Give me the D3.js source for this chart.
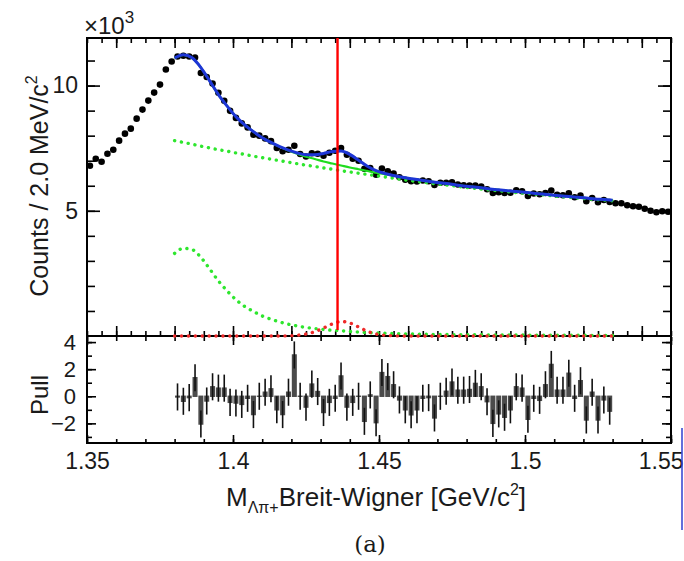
<!DOCTYPE html>
<html>
  <head>
    <meta charset="utf-8" />
    <title>Lambda pi+ invariant mass fit with pulls</title>
    <script src="https://d3js.org/d3.v7.min.js"></script>
    <style>
      body {
        margin: 0;
        background: #fff;
      }
      svg text {
        font-family: "Liberation Sans", Arial, sans-serif;
        fill: #1a1a1a;
      }
      .axis path {
        display: none;
      }
      .axis line {
        stroke: #000;
        stroke-width: 1.6;
      }
      .axis text {
        font-size: 22px;
      }
    </style>
  </head>
  <body>
    <svg id="chart" width="684" height="561"></svg>

    <script>
      // ---- data (counts in units of 10^3 per 2 MeV/c^2 bin) ----
      const firstBin = 1.351;   // centre of first bin, GeV/c^2
      const binWidth = 0.002;

      const counts = [
        6.80, 7.08, 6.96, 7.28, 7.44, 7.80, 8.08, 8.28, 8.68, 9.04,
        9.40, 9.72, 10.04, 10.64, 10.96, 11.16, 11.19, 11.16, 11.12, 10.50,
        10.34, 10.08, 9.71, 9.39, 8.99, 8.71, 8.49, 8.33, 8.04, 8.00,
        7.89, 7.78, 7.51, 7.38, 7.44, 7.60, 7.27, 7.17, 7.30, 7.28,
        7.20, 7.32, 7.40, 7.51, 7.24, 7.08, 7.00, 6.68, 6.71, 6.44,
        6.69, 6.58, 6.49, 6.34, 6.24, 6.18, 6.17, 6.21, 6.18, 6.03,
        6.12, 6.12, 6.14, 6.05, 6.02, 6.01, 6.01, 5.97, 5.86, 5.71,
        5.74, 5.71, 5.72, 5.82, 5.78, 5.59, 5.69, 5.66, 5.71, 5.81,
        5.64, 5.62, 5.70, 5.54, 5.61, 5.38, 5.51, 5.34, 5.43, 5.35,
        5.30, 5.30, 5.22, 5.18, 5.16, 5.08, 5.00, 4.94, 4.98, 4.96
      ];

      // fit components sampled on a 3 MeV grid from 1.380 to 1.530
      const fitStart = 1.380;
      const fitStep = 0.003;

      // polynomial background (upper green dotted)
      const bkgPoly = [
        7.80, 7.73, 7.66, 7.58, 7.51, 7.44, 7.38, 7.31, 7.25, 7.18,
        7.12, 7.06, 7.00, 6.94, 6.88, 6.82, 6.77, 6.71, 6.66, 6.60,
        6.55, 6.50, 6.45, 6.40, 6.35, 6.30, 6.25, 6.20, 6.16, 6.11,
        6.07, 6.03, 5.99, 5.94, 5.91, 5.87, 5.83, 5.80, 5.76, 5.73,
        5.70, 5.67, 5.64, 5.60, 5.57, 5.54, 5.51, 5.48, 5.45, 5.43,
        5.40
      ];

      // Sigma(1385) Breit-Wigner (lower green dotted)
      const bkgSigma = [
        3.30, 3.50, 3.45, 3.14, 2.68, 2.20, 1.80, 1.45, 1.18, 0.98,
        0.80, 0.67, 0.56, 0.47, 0.40, 0.34, 0.30, 0.26, 0.23, 0.21,
        0.18, 0.16, 0.14, 0.12, 0.11, 0.10, 0.09, 0.08, 0.07, 0.07,
        0.06, 0.06, 0.05, 0.05, 0.05, 0.05, 0.04, 0.04, 0.04, 0.04,
        0.04, 0.03, 0.03, 0.03, 0.03, 0.03, 0.03, 0.03, 0.02, 0.02,
        0.02
      ];

      // signal (red dotted)
      const signal = [
        0, 0, 0, 0, 0, 0, 0, 0, 0, 0,
        0, 0, 0, 0.01, 0.03, 0.08, 0.17, 0.32, 0.48, 0.58,
        0.52, 0.36, 0.19, 0.08, 0.03, 0.01, 0, 0, 0, 0,
        0, 0, 0, 0, 0, 0, 0, 0, 0, 0,
        0, 0, 0, 0, 0, 0, 0, 0, 0, 0,
        0
      ];

      const markerMass = 1.4358;  // vertical red line

      // pulls for the 75 bins of the fit range (first bin centre 1.381)
      const pullStart = 1.381;
      const pulls = [
        -0.05, -0.37, -0.10, 1.37, -2.05, -0.35, 0.70, 0.60, 0.60, -0.45,
        -0.50, -0.60, -0.15, -1.35, 0.00, 0.30, 0.55, -1.00, -1.35, 0.30,
        3.05, 0.00, -0.80, 0.90, 0.35, -1.20, -0.45, -0.15, 1.50, -0.80,
        -0.45, 0.00, -1.85, 0.10, -1.95, 1.75, 1.45, 0.85, -0.27, -1.00,
        -1.37, -1.00, -0.15, -0.10, -1.60, 0.00, 0.37, 1.05, 0.45, 0.45,
        0.50, 0.95, 0.70, -0.40, -2.00, -1.30, -1.55, -1.00, 0.70, 0.60,
        -1.70, -0.15, -0.30, 0.85, 2.35, 0.45, 0.45, 1.70, -0.15, 1.15,
        -1.75, 0.30, -1.75, -0.27, -1.10
      ];

      const xTickLabels = ["1.35", "1.4", "1.45", "1.5", "1.55"];
      const yTickLabels = ["5", "10"];
      const pullTickLabels = ["\u22122", "0", "2", "4"];

      // ---- layout ----
      const left = 87, right = 671;
      const topY = 38, midY = 336, botY = 443;

      const svg = d3.select('#chart');

      const x = d3.scaleLinear().domain([1.35, 1.55]).range([left, right]);
      const y = d3.scaleLinear().domain([0, 11.9]).range([midY, topY]);
      const yp = d3.scaleLinear().domain([-3.45, 4.45]).range([botY, midY]);

      const binCentres = counts.map((c, i) => firstBin + i * binWidth);
      const fitMass = bkgPoly.map((v, i) => fitStart + i * fitStep);

      // clip for the upper pad
      svg.append('clipPath').attr('id', 'topclip')
        .append('rect')
        .attr('x', left).attr('y', topY)
        .attr('width', right - left).attr('height', midY - topY + 2);

      // ---- axes, upper pad ----
      const xMinorTop = d3.range(0, 41).map(i => 1.35 + i * 0.005);
      const xMajorTop = d3.range(0, 10).map(i => 1.36 + i * 0.02);

      function addAxis(axis, tx, ty) {
        return svg.append('g').attr('class', 'axis')
          .attr('transform', `translate(${tx},${ty})`)
          .call(axis);
      }

      addAxis(d3.axisBottom(x).tickValues(xMinorTop).tickSize(-5).tickFormat(''), 0, midY);
      addAxis(d3.axisBottom(x).tickValues(xMajorTop).tickSize(-10).tickFormat(''), 0, midY);
      addAxis(d3.axisTop(x).tickValues(xMinorTop).tickSize(-5).tickFormat(''), 0, topY);
      addAxis(d3.axisTop(x).tickValues(xMajorTop).tickSize(-10).tickFormat(''), 0, topY);

      const yMinor = d3.range(1, 12);
      addAxis(d3.axisLeft(y).tickValues(yMinor).tickSize(-8).tickFormat(''), left, 0);
      addAxis(d3.axisLeft(y).tickValues([5, 10]).tickSize(-13).tickPadding(9)
        .tickFormat((d, i) => yTickLabels[i]), left, 0)
        .selectAll('text').style('font-size', '23px');
      addAxis(d3.axisRight(y).tickValues(yMinor).tickSize(-8).tickFormat(''), right, 0);
      addAxis(d3.axisRight(y).tickValues([5, 10]).tickSize(-13).tickFormat(''), right, 0);

      // ---- axes, pull pad ----
      const xMinorBot = d3.range(0, 21).map(i => 1.35 + i * 0.01);
      const xMajorBot = d3.range(0, 5).map(i => 1.35 + i * 0.05);

      addAxis(d3.axisBottom(x).tickValues(xMinorBot).tickSize(-4).tickFormat(''), 0, botY);
      const xLab = addAxis(d3.axisBottom(x).tickValues(xMajorBot).tickSize(-8).tickPadding(10)
        .tickFormat((d, i) => xTickLabels[i]), 0, botY);
      xLab.selectAll('text').style('font-size', '23px');
      // the last label sits against the right edge of the figure
      xLab.selectAll('text').filter((d, i) => i === xTickLabels.length - 1)
        .attr('text-anchor', 'end').attr('x', 683 - right);
      addAxis(d3.axisTop(x).tickValues(xMinorBot).tickSize(-4).tickFormat(''), 0, midY + 1);
      addAxis(d3.axisTop(x).tickValues(xMajorBot).tickSize(-8).tickFormat(''), 0, midY + 1);

      const pMinor = d3.range(-3, 5);
      addAxis(d3.axisLeft(yp).tickValues(pMinor).tickSize(-5).tickFormat(''), left, 0);
      addAxis(d3.axisLeft(yp).tickValues([-2, 0, 2, 4]).tickSize(-9).tickPadding(11)
        .tickFormat((d, i) => pullTickLabels[i]), left, 0);
      addAxis(d3.axisRight(yp).tickValues(pMinor).tickSize(-5).tickFormat(''), right, 0);
      addAxis(d3.axisRight(yp).tickValues([-2, 0, 2, 4]).tickSize(-9).tickFormat(''), right, 0);

      // ---- frames ----
      svg.append('rect')
        .attr('x', left).attr('y', topY)
        .attr('width', right - left).attr('height', botY - topY)
        .attr('fill', 'none').attr('stroke', '#000').attr('stroke-width', 2);
      svg.append('line')
        .attr('x1', left).attr('x2', right)
        .attr('y1', midY).attr('y2', midY)
        .attr('stroke', '#000').attr('stroke-width', 2.2);

      // ---- data points ----
      const plot = svg.append('g').attr('clip-path', 'url(#topclip)');

      plot.selectAll('circle.data')
        .data(counts)
        .join('circle')
        .attr('class', 'data')
        .attr('cx', (d, i) => x(binCentres[i]))
        .attr('cy', d => y(d))
        .attr('r', 3.3)
        .attr('fill', '#000');

      // ---- fit curves ----
      const curve = vals => d3.line()
        .x((d, i) => x(fitMass[i]))
        .y(d => y(d))
        .curve(d3.curveMonotoneX)(vals);

      const bkgTotal = bkgPoly.map((v, i) => v + bkgSigma[i]);
      const fitTotal = bkgTotal.map((v, i) => v + signal[i]);

      function dotted(vals, colour) {
        plot.append('path')
          .attr('d', curve(vals))
          .attr('fill', 'none')
          .attr('stroke', colour)
          .attr('stroke-width', 3.4)
          .attr('stroke-linecap', 'round')
          .attr('stroke-dasharray', '0.1 6.8');
      }

      dotted(bkgPoly, '#2ee62e');
      dotted(bkgSigma, '#2ee62e');
      dotted(signal, '#ee2a2a');

      plot.append('path')
        .attr('d', curve(bkgTotal))
        .attr('fill', 'none')
        .attr('stroke', '#1fdc1f')
        .attr('stroke-width', 2.2);

      plot.append('path')
        .attr('d', curve(fitTotal))
        .attr('fill', 'none')
        .attr('stroke', '#1d35d6')
        .attr('stroke-width', 3);

      // red marker line
      svg.append('line')
        .attr('x1', x(markerMass)).attr('x2', x(markerMass))
        .attr('y1', topY).attr('y2', 330)
        .attr('stroke', '#ff0000')
        .attr('stroke-width', 2.4);

      // ---- pulls ----
      const pullBins = pulls.map((p, i) => ({ m: pullStart + i * binWidth, p }));
      const bw = x(1.35 + binWidth) - x(1.35);

      svg.selectAll('rect.pull')
        .data(pullBins)
        .join('rect')
        .attr('class', 'pull')
        .attr('x', d => x(d.m) - bw / 2 + 0.4)
        .attr('width', bw - 0.8)
        .attr('y', d => Math.min(yp(d.p), yp(0)) - 0.7)
        .attr('height', d => Math.abs(yp(d.p) - yp(0)) + 1.4)
        .attr('fill', '#4b4b4b');

      svg.selectAll('line.err')
        .data(pullBins)
        .join('line')
        .attr('class', 'err')
        .attr('x1', d => x(d.m)).attr('x2', d => x(d.m))
        .attr('y1', d => yp(d.p - 1)).attr('y2', d => yp(d.p + 1))
        .attr('stroke', '#111')
        .attr('stroke-width', 1.6);

      // ---- titles ----
      const mult = svg.append('text')
        .attr('x', left - 3).attr('y', 34)
        .style('font-size', '24px');
      mult.append('tspan').text('\u00d710');
      mult.append('tspan').attr('dy', -11).style('font-size', '17px').text('3');

      const yTitle = svg.append('text')
        .attr('transform', 'translate(48,186) rotate(-90)')
        .attr('text-anchor', 'middle')
        .style('font-size', '25px');
      yTitle.append('tspan').text('Counts / 2.0 MeV/c');
      yTitle.append('tspan').attr('dy', -11).style('font-size', '16px').text('2');

      svg.append('text')
        .attr('transform', 'translate(48,395) rotate(-90)')
        .attr('text-anchor', 'middle')
        .style('font-size', '24px')
        .text('Pull');

      const xTitle = svg.append('text')
        .attr('x', 376).attr('y', 506)
        .attr('text-anchor', 'middle')
        .style('font-size', '26px');
      xTitle.append('tspan').text('M');
      xTitle.append('tspan').attr('dy', 7).style('font-size', '16px').text('\u039b\u03c0+');
      xTitle.append('tspan').attr('dy', -7).text('Breit-Wigner [GeV/c');
      xTitle.append('tspan').attr('dy', -11).style('font-size', '16px').text('2');
      xTitle.append('tspan').attr('dy', 11).text(']');

      svg.append('text')
        .attr('x', 370).attr('y', 552)
        .attr('text-anchor', 'middle')
        .style('font-family', '"DejaVu Serif", "Liberation Serif", serif')
        .style('font-size', '23px')
        .text('(a)');

      // thin blue edge at the right of the original capture
      svg.append('line')
        .attr('x1', 682).attr('x2', 682)
        .attr('y1', 428).attr('y2', 530)
        .attr('stroke', '#2f3fcf')
        .attr('stroke-width', 1.5);
    </script>
  </body>
</html>
